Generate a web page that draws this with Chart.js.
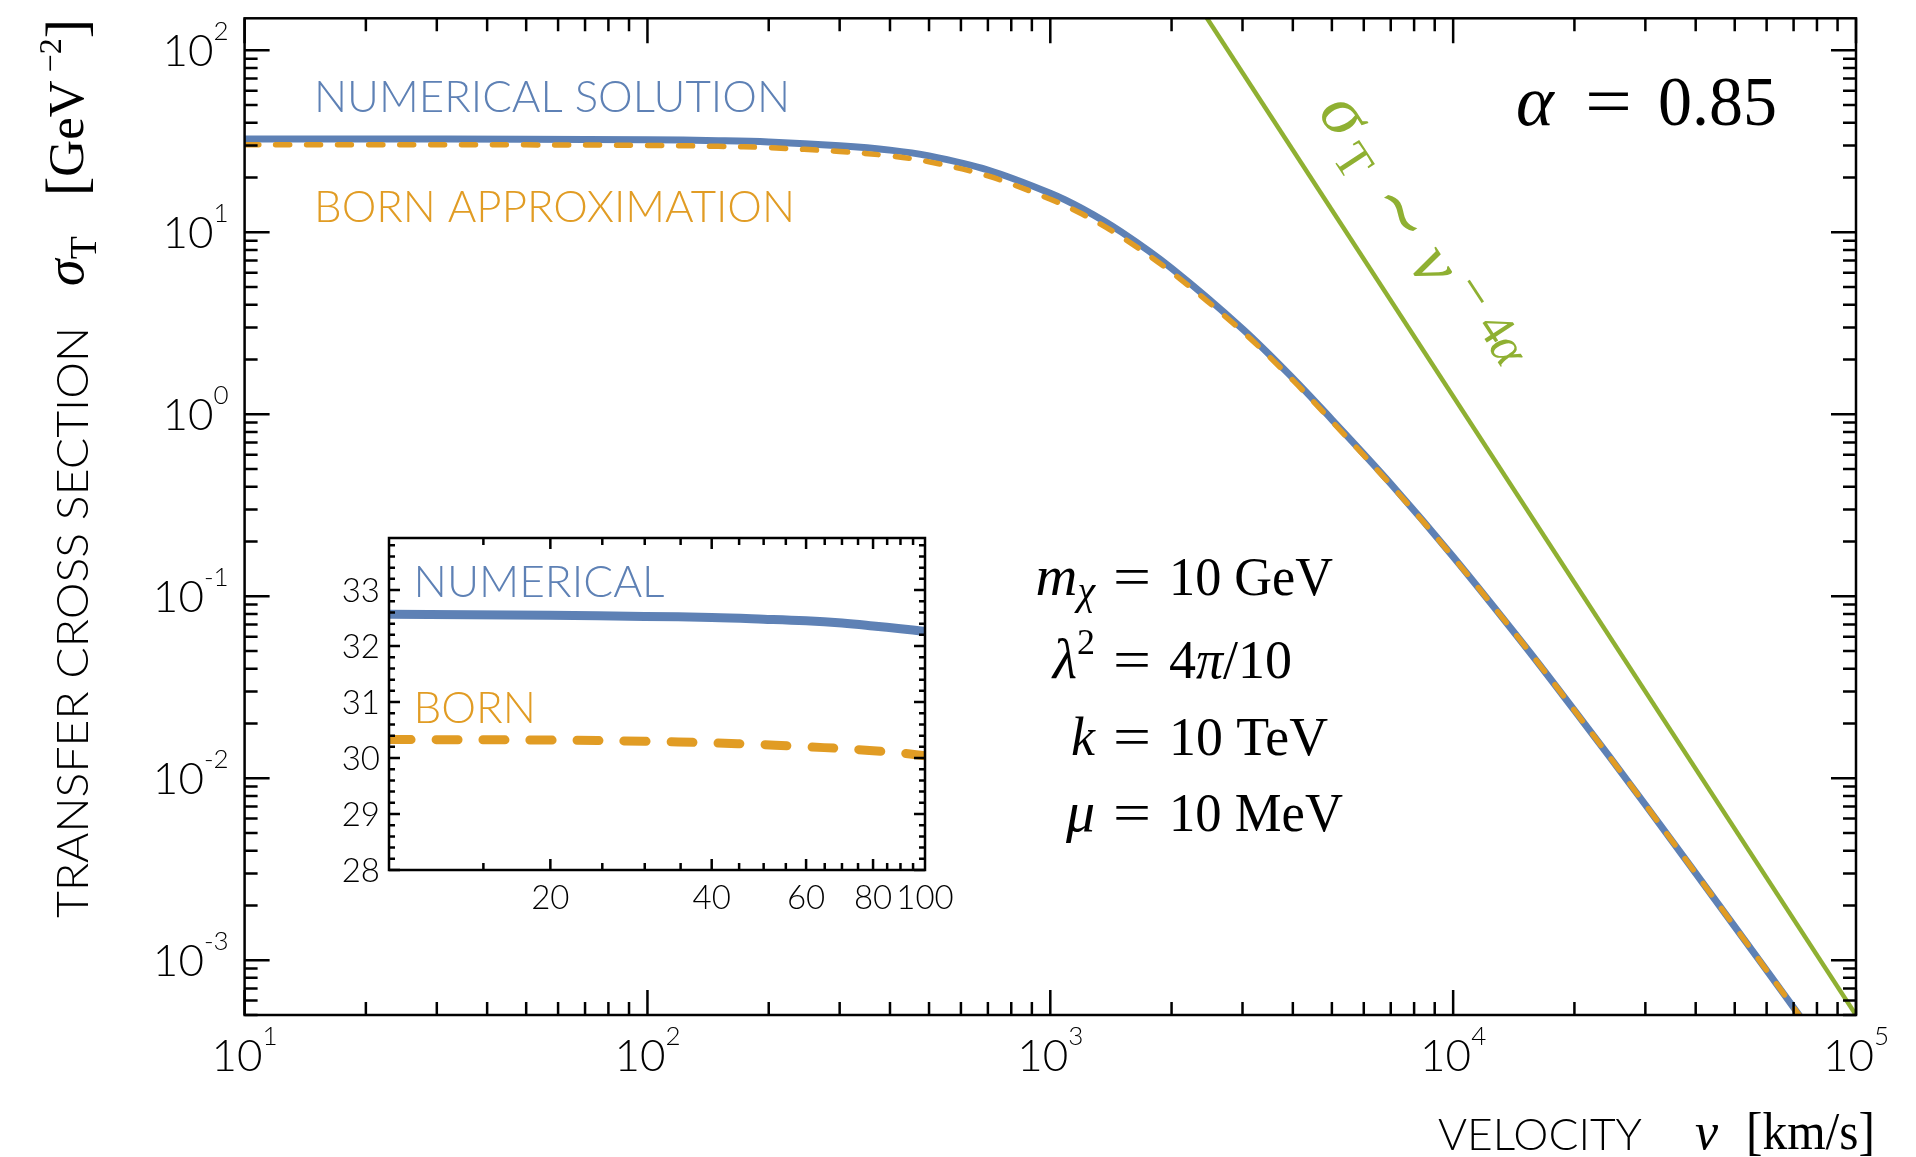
<!DOCTYPE html>
<html>
<head>
<meta charset="utf-8">
<title>Transfer cross section vs velocity</title>
<script src="https://cdn.jsdelivr.net/npm/chart.js@4.4.0/dist/chart.umd.min.js"></script>
<style>
  html, body { margin: 0; padding: 0; background: #fff; overflow: hidden; }
  #wrap { position: relative; width: 1916px; height: 1157px; }
  #main { position: absolute; left: 0; top: 0; }
  #inset { position: absolute; left: 300px; top: 500px; }
</style>
</head>
<body>
<div id="wrap">
  <canvas id="main" width="1916" height="1157"></canvas>
  <canvas id="inset" width="700" height="440"></canvas>
</div>
<script>
// velocity grid (km/s) and transfer cross sections (GeV^-2)
const mainV = [10, 20, 50, 100, 150, 200, 300, 400, 500, 700, 1000, 1200, 1500, 2000,
  3000, 4000, 5000, 7000, 10000, 15000, 20000, 30000, 50000, 70000, 80000];
const numericalSigma = [32.57, 32.55, 32.48, 32.26, 31.9, 31.4, 29.9, 28.3, 26.3, 22.0, 16.4, 13.5, 10.05, 6.35,
  2.95, 1.58, 0.935, 0.415, 0.165, 0.054, 0.0236, 0.00715, 0.00153, 0.00055, 0.000365];
const bornSigma = [30.33, 30.32, 30.24, 30.04, 29.7, 29.2, 27.8, 26.3, 24.4, 20.4, 15.2, 12.6, 9.45, 6.03,
  2.85, 1.54, 0.915, 0.41, 0.164, 0.054, 0.0236, 0.00715, 0.00153, 0.00055, 0.000365];

// asymptotic power law sigma ~ v^(-4 alpha)
const greenV = [2000, 100000];
const greenSigma = [299, 0.0005];

// low-velocity zoom
const insetV = [10, 20, 30, 40, 50, 60, 70, 80, 90, 100];
const insetNumerical = [32.57, 32.55, 32.53, 32.51, 32.48, 32.45, 32.41, 32.36, 32.31, 32.26];
const insetBorn = [30.33, 30.32, 30.30, 30.27, 30.24, 30.20, 30.17, 30.13, 30.09, 30.04];

// tick labels
const xTicks = [1e1, 1e2, 1e3, 1e4, 1e5];
const xTickExp = ['1', '2', '3', '4', '5'];
const yTicks = [1e2, 1e1, 1e0, 1e-1, 1e-2, 1e-3];
const yTickExp = ['2', '1', '0', '-1', '-2', '-3'];
const insetXTicks = [20, 40, 60, 80, 100];
const insetYTicks = [28, 29, 30, 31, 32, 33];

const BLUE = '#5e81b5';
const ORANGE = '#e19c24';
const GREEN = '#8fb032';
const SANS = 'Lato, "Liberation Sans", sans-serif';
const SERIF = '"Liberation Serif", "DejaVu Serif", serif';
const it = s => `italic ${s}px ${SERIF}`;
const rm = s => `${s}px ${SERIF}`;
const sans = s => `300 ${s}px ${SANS}`;

// text squeezed/stretched to a given width
function fitText(ctx, str, x, y, font, width, color) {
  ctx.save();
  ctx.font = font;
  ctx.fillStyle = color || '#000';
  ctx.textAlign = 'left';
  ctx.textBaseline = 'alphabetic';
  const w = ctx.measureText(str).width;
  ctx.translate(x, y);
  ctx.scale(width / w, 1);
  ctx.fillText(str, 0, 0);
  ctx.restore();
}

// runs of [text, font, dy] laid out one after another
function drawRuns(ctx, runs, x, y, align, color) {
  ctx.save();
  ctx.fillStyle = color || '#000';
  ctx.textAlign = 'left';
  ctx.textBaseline = 'alphabetic';
  const widths = runs.map(r => { ctx.font = r[1]; return ctx.measureText(r[0]).width; });
  const total = widths.reduce((s, w) => s + w, 0);
  let cx = align === 'right' ? x - total : align === 'center' ? x - total / 2 : x;
  runs.forEach((r, i) => {
    ctx.font = r[1];
    ctx.fillText(r[0], cx, y + (r[2] || 0));
    cx += widths[i];
  });
  ctx.restore();
  return cx;
}

// single glyph centred on (cx, cy) by its ink box
function glyphAt(ctx, ch, font, cx, cy) {
  ctx.font = font;
  ctx.textAlign = 'left';
  ctx.textBaseline = 'alphabetic';
  const m = ctx.measureText(ch);
  const X = cx - (m.actualBoundingBoxRight - m.actualBoundingBoxLeft) / 2;
  const Y = cy + (m.actualBoundingBoxAscent - m.actualBoundingBoxDescent) / 2;
  ctx.fillText(ch, X, Y);
}

function pow10(ctx, exp, x, y, align) {
  drawRuns(ctx, [['10', sans(44)], [exp, sans(26), -26]], x, y, align);
}

function logTicks(min, max) {
  const out = [];
  for (let e = Math.floor(Math.log10(min)); e <= Math.ceil(Math.log10(max)); e++) {
    for (let m = 1; m <= 9; m++) {
      const v = m * Math.pow(10, e);
      if (v >= min * 0.999 && v <= max * 1.001) out.push({ v, major: m === 1 });
    }
  }
  return out;
}

const mainDecor = {
  id: 'mainDecor',
  afterDraw(chart) {
    const { ctx, chartArea: a, scales: { x, y } } = chart;
    ctx.save();

    // frame with inward ticks on all four sides
    ctx.strokeStyle = '#000';
    ctx.lineWidth = 2.5;
    ctx.beginPath();
    logTicks(x.min, x.max).forEach(t => {
      const px = x.getPixelForValue(t.v);
      const len = t.major ? 25 : 13;
      ctx.moveTo(px, a.bottom); ctx.lineTo(px, a.bottom - len);
      ctx.moveTo(px, a.top); ctx.lineTo(px, a.top + len);
    });
    logTicks(y.min, y.max).forEach(t => {
      const py = y.getPixelForValue(t.v);
      const len = t.major ? 25 : 13;
      ctx.moveTo(a.left, py); ctx.lineTo(a.left + len, py);
      ctx.moveTo(a.right, py); ctx.lineTo(a.right - len, py);
    });
    ctx.stroke();
    ctx.strokeRect(a.left, a.top, a.right - a.left, a.bottom - a.top);

    xTicks.forEach((v, i) => pow10(ctx, xTickExp[i], x.getPixelForValue(v), a.bottom + 56, 'center'));
    yTicks.forEach((v, i) => pow10(ctx, yTickExp[i], a.left - 16, y.getPixelForValue(v) + 16, 'right'));

    // curve labels
    fitText(ctx, 'NUMERICAL SOLUTION', 314, 112, sans(44), 476, BLUE);
    fitText(ctx, 'BORN APPROXIMATION', 314, 222, sans(44), 481, ORANGE);

    // alpha = 0.85
    drawRuns(ctx, [['α', it(72)]], 1516, 125, 'left');
    fitText(ctx, '=', 1585, 125, rm(70), 47);
    fitText(ctx, '0.85', 1658, 125, rm(70), 119);

    // power-law label written along the green line
    const g0 = { x: x.getPixelForValue(greenV[0]), y: y.getPixelForValue(greenSigma[0]) };
    const g1 = { x: x.getPixelForValue(greenV[1]), y: y.getPixelForValue(greenSigma[1]) };
    const ang = Math.atan2(g1.y - g0.y, g1.x - g0.x);
    const t = (a.top - g0.y) / (g1.y - g0.y);
    ctx.save();
    ctx.translate(g0.x + t * (g1.x - g0.x), a.top);
    ctx.rotate(ang);
    ctx.fillStyle = GREEN;
    glyphAt(ctx, 'σ', it(72), 158, -59);
    glyphAt(ctx, 'T', rm(50), 199, -45);
    glyphAt(ctx, '∼', rm(70), 269, -56);
    glyphAt(ctx, 'v', it(72), 331, -50);
    glyphAt(ctx, '−', rm(56), 375, -76);
    glyphAt(ctx, '4', rm(50), 417, -74);
    glyphAt(ctx, 'α', it(52), 443, -68);
    ctx.restore();

    // model parameters, aligned on '='
    const params = [
      { y: 595, lhs: [['m', it(58)], ['χ', it(40), 9]], rhs: '10 GeV', w: 164 },
      { y: 678, lhs: [['λ', it(56)], ['2', rm(36), -24]], rhs: null },
      { y: 755, lhs: [['k', it(54)]], rhs: '10 TeV', w: 159 },
      { y: 831, lhs: [['μ', it(58)]], rhs: '10 MeV', w: 174 }
    ];
    params.forEach(p => {
      drawRuns(ctx, p.lhs, 1095, p.y, 'right');
      fitText(ctx, '=', 1113, p.y, rm(54), 38);
      if (p.rhs) fitText(ctx, p.rhs, 1169, p.y, rm(54), p.w);
      else drawRuns(ctx, [['4', rm(54)], ['π', it(54)], ['/10', rm(54)]], 1169, p.y, 'left');
    });

    // y axis title
    ctx.save();
    ctx.translate(88, 918);
    ctx.rotate(-Math.PI / 2);
    fitText(ctx, 'TRANSFER CROSS SECTION', 0, 0, sans(44), 591);
    drawRuns(ctx, [['σ', it(54), -5], ['T', rm(38), 8]], 632, 0, 'left');
    drawRuns(ctx, [['[', rm(58), -3], ['GeV', rm(51), -5], [' −2', rm(32), -27], [']', rm(58), -3]], 722, 0, 'left');
    ctx.restore();

    // x axis title
    fitText(ctx, 'VELOCITY', 1438, 1150, sans(44), 204);
    drawRuns(ctx, [['v', it(52)]], 1695, 1149, 'left');
    fitText(ctx, '[km/s]', 1746, 1149, rm(52), 129);

    ctx.restore();
  }
};

const insetDecor = {
  id: 'insetDecor',
  beforeDatasetsDraw(chart) {
    const { ctx, chartArea: a } = chart;
    ctx.save();
    ctx.fillStyle = '#fff';
    ctx.fillRect(a.left, a.top, a.right - a.left, a.bottom - a.top);
    ctx.restore();
  },
  afterDraw(chart) {
    const { ctx, chartArea: a, scales: { x, y } } = chart;
    ctx.save();
    ctx.strokeStyle = '#000';
    ctx.lineWidth = 2.5;
    ctx.beginPath();
    for (let v = 15; v <= 95; v += 5) {
      const px = x.getPixelForValue(v);
      const len = insetXTicks.includes(v) ? 11 : 7;
      ctx.moveTo(px, a.bottom); ctx.lineTo(px, a.bottom - len);
      ctx.moveTo(px, a.top); ctx.lineTo(px, a.top + len);
    }
    for (let k = 0; k * 0.2 <= y.max - 28; k++) {
      const py = y.getPixelForValue(28 + k * 0.2);
      const len = k % 5 === 0 ? 11 : 6;
      ctx.moveTo(a.left, py); ctx.lineTo(a.left + len, py);
      ctx.moveTo(a.right, py); ctx.lineTo(a.right - len, py);
    }
    ctx.stroke();
    ctx.strokeRect(a.left, a.top, a.right - a.left, a.bottom - a.top);

    ctx.fillStyle = '#000';
    ctx.font = sans(33);
    ctx.textBaseline = 'alphabetic';
    ctx.textAlign = 'center';
    insetXTicks.forEach(v => ctx.fillText(String(v), x.getPixelForValue(v), a.bottom + 39));
    ctx.textAlign = 'right';
    insetYTicks.forEach(v => ctx.fillText(String(v), a.left - 9, y.getPixelForValue(v) + 11.5));

    fitText(ctx, 'NUMERICAL', a.left + 24.5, a.top + 58.7, sans(44), 251, BLUE);
    fitText(ctx, 'BORN', a.left + 24.5, a.top + 184.7, sans(44), 122.5, ORANGE);
    ctx.restore();
  }
};

const pairs = (xs, ys) => xs.map((v, i) => ({ x: v, y: ys[i] }));

new Chart(document.getElementById('main'), {
  type: 'line',
  data: {
    datasets: [
      {
        label: 'Born approximation',
        data: pairs(mainV, bornSigma),
        borderColor: ORANGE,
        borderWidth: 5.5,
        borderDash: [14, 17],
        borderCapStyle: 'round',
        tension: 0.35,
        pointRadius: 0,
        clip: 0,
        order: 0
      },
      {
        label: 'Numerical solution',
        data: pairs(mainV, numericalSigma),
        borderColor: BLUE,
        borderWidth: 7,
        tension: 0.35,
        pointRadius: 0,
        clip: 0,
        order: 1
      },
      {
        label: 'Power law',
        data: pairs(greenV, greenSigma),
        borderColor: GREEN,
        borderWidth: 4.5,
        pointRadius: 0,
        clip: 0,
        order: 2
      }
    ]
  },
  options: {
    responsive: false,
    animation: false,
    devicePixelRatio: 1,
    events: [],
    layout: { padding: { left: 244.6, top: 18.3, right: 60, bottom: 142 } },
    plugins: { legend: { display: false }, tooltip: { enabled: false } },
    scales: {
      x: { type: 'logarithmic', min: 10, max: 1e5, display: false },
      y: { type: 'logarithmic', min: 5e-4, max: 150, display: false }
    }
  },
  plugins: [mainDecor]
});

new Chart(document.getElementById('inset'), {
  type: 'line',
  data: {
    datasets: [
      {
        label: 'Born',
        data: pairs(insetV, insetBorn),
        borderColor: ORANGE,
        borderWidth: 9,
        borderDash: [22, 25],
        borderCapStyle: 'round',
        tension: 0.4,
        pointRadius: 0,
        clip: 0,
        order: 0
      },
      {
        label: 'Numerical',
        data: pairs(insetV, insetNumerical),
        borderColor: BLUE,
        borderWidth: 9,
        tension: 0.4,
        pointRadius: 0,
        clip: { left: 0, top: 0, right: 4, bottom: 0 },
        order: 1
      }
    ]
  },
  options: {
    responsive: false,
    animation: false,
    devicePixelRatio: 1,
    events: [],
    layout: { padding: { left: 89, top: 38, right: 75, bottom: 70 } },
    plugins: { legend: { display: false }, tooltip: { enabled: false } },
    scales: {
      x: { type: 'logarithmic', min: 10, max: 100, display: false },
      y: { type: 'linear', min: 28, max: 33.93, display: false }
    }
  },
  plugins: [insetDecor]
});
</script>
</body>
</html>
